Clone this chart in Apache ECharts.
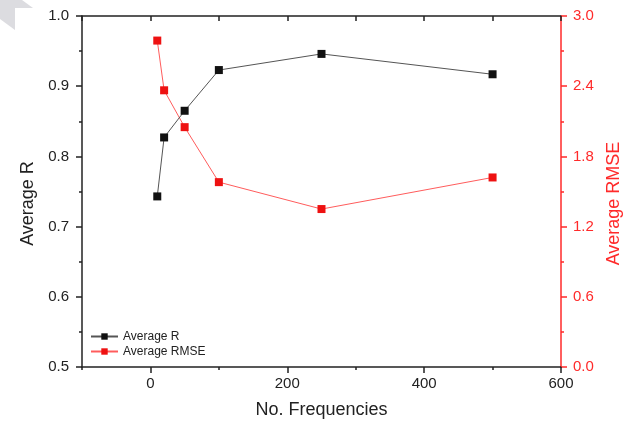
<!DOCTYPE html>
<html>
<head>
<meta charset="utf-8">
<script src="https://cdn.jsdelivr.net/npm/echarts@6/dist/echarts.min.js"></script>
<style>
html,body{margin:0;padding:0;background:#fff;}
#c{width:635px;height:426px;}
</style>
</head>
<body>
<div id="c"></div>
<script>
var frequencies = [10, 20, 50, 100, 250, 500];
var averageR = [0.743, 0.827, 0.865, 0.923, 0.946, 0.917];
var averageRMSE = [2.79, 2.365, 2.05, 1.58, 1.35, 1.62];
var xTickLabels = [0, 200, 400, 600];

var FONT = 'Liberation Sans, Arial, sans-serif';
var RED = '#ff2a2a';
var AX = '#222';

function pairs(xs, ys) { return xs.map(function (x, i) { return [x, ys[i]]; }); }

var chart = echarts.init(document.getElementById('c'), null, { renderer: 'canvas' });
chart.setOption({
  animation: false,
  backgroundColor: '#fff',
  textStyle: { fontFamily: FONT },
  graphic: [{
    type: 'polygon',
    shape: { points: [[0,0],[22,0],[33,8],[15,8],[15,30],[0,19]] },
    style: { fill: '#dcdce0' },
    silent: true
  }],
  grid: { left: 82, right: 74, top: 16, bottom: 59, containLabel: false },
  legend: {
    orient: 'vertical',
    left: 85,
    top: 325,
    itemWidth: 27,
    itemHeight: 8,
    itemGap: 2,
    textStyle: { fontFamily: FONT, fontSize: 12, color: '#222', lineHeight: 13 },
    data: ['Average R', 'Average RMSE']
  },
  xAxis: [{
    type: 'value', position: 'bottom', min: -100, max: 600, interval: 100,
    name: 'No. Frequencies', nameLocation: 'middle', nameGap: 34,
    nameTextStyle: { fontFamily: FONT, fontSize: 18, color: '#222' },
    axisLine: { show: true, onZero: false, lineStyle: { color: AX, width: 1.5 } },
    axisTick: { show: true, inside: false, length: 6, customValues: xTickLabels, lineStyle: { color: AX, width: 1.5 } },
    axisLabel: { show: true, margin: 9, fontFamily: FONT, fontSize: 15, color: '#222', customValues: xTickLabels },
    splitLine: { show: false }
  }, {
    type: 'value', position: 'top', min: -100, max: 600, interval: 100,
    axisLine: { show: true, onZero: false, lineStyle: { color: AX, width: 1.5 } },
    axisTick: { show: true, inside: true, length: 5, lineStyle: { color: AX, width: 1.5 } },
    axisLabel: { show: false },
    splitLine: { show: false }
  }, {
    type: 'value', position: 'bottom', min: -100, max: 600, interval: 100,
    axisLine: { show: false, onZero: false },
    axisTick: { show: true, inside: false, length: 3, lineStyle: { color: AX, width: 1.5 } },
    axisLabel: { show: false },
    splitLine: { show: false }
  }],
  yAxis: [{
    type: 'value', position: 'left', min: 0.5, max: 1.0, interval: 0.1,
    name: 'Average R', nameLocation: 'middle', nameGap: 45,
    nameTextStyle: { fontFamily: FONT, fontSize: 18, color: '#222', padding: [0, 24, 0, 0] },
    axisLine: { show: true, onZero: false, lineStyle: { color: AX, width: 1.5 } },
    axisTick: { show: true, inside: false, length: 6, lineStyle: { color: AX, width: 1.5 } },
    minorTick: { show: true, splitNumber: 2, length: 3, lineStyle: { color: AX, width: 1.5 } },
    axisLabel: { margin: 13, fontFamily: FONT, fontSize: 15, color: '#222', formatter: function (v) { return v.toFixed(1); } },
    splitLine: { show: false }
  }, {
    type: 'value', position: 'right', min: 0, max: 3.0, interval: 0.6,
    name: 'Average RMSE', nameLocation: 'middle', nameGap: 44, nameRotate: 90,
    nameTextStyle: { fontFamily: FONT, fontSize: 18, color: RED, padding: [0, 24, 0, 0] },
    axisLine: { show: true, onZero: false, lineStyle: { color: RED, width: 1.5 } },
    axisTick: { show: true, inside: false, length: 6, lineStyle: { color: RED, width: 1.5 } },
    minorTick: { show: true, splitNumber: 2, length: 3, lineStyle: { color: RED, width: 1.5 } },
    axisLabel: { margin: 12, fontFamily: FONT, fontSize: 15, color: RED, formatter: function (v) { return v.toFixed(1); } },
    splitLine: { show: false }
  }],
  series: [{
    name: 'Average R', type: 'line', xAxisIndex: 0, yAxisIndex: 0,
    data: pairs(frequencies, averageR),
    symbol: 'rect', symbolSize: 8,
    lineStyle: { color: '#555', width: 1 },
    itemStyle: { color: '#111' },
    z: 3
  }, {
    name: 'Average RMSE', type: 'line', xAxisIndex: 0, yAxisIndex: 1,
    data: pairs(frequencies, averageRMSE),
    symbol: 'rect', symbolSize: 8,
    lineStyle: { color: '#ff5c5c', width: 1 },
    itemStyle: { color: '#ee1111' },
    z: 2
  }]
});
</script>
</body>
</html>
